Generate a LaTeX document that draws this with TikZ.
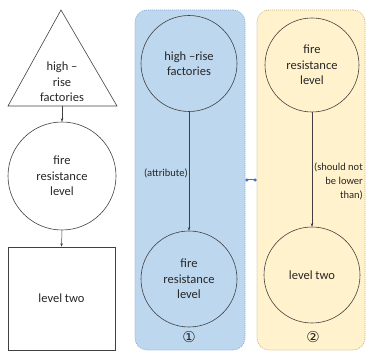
\documentclass[tikz,border=0pt]{standalone}
\usepackage{fontspec}
\setmainfont{Carlito}
\newfontfamily\symfont{DejaVu Sans}
\usetikzlibrary{shapes.geometric,arrows.meta}
\definecolor{lineg}{HTML}{404040}
\definecolor{txtg}{HTML}{262626}
\definecolor{bluefill}{HTML}{BDD7EE}
\definecolor{blueedge}{HTML}{8FAADC}
\definecolor{yelfill}{HTML}{FFF2CC}
\definecolor{yeledge}{HTML}{C9B67A}
\definecolor{conblue}{HTML}{4472C4}
\tikzset{
  shp/.style={draw=lineg, line width=0.6pt, text=txtg, align=center, font=\fontsize{12.5}{15.5}\selectfont, inner sep=0pt},
  arr/.style={draw=lineg, line width=0.5pt, -{Stealth[length=3.5pt,width=2.5pt]}},
  lbl/.style={text=txtg, font=\fontsize{10.5}{14}\selectfont, inner sep=1pt},
  panel/.style={rounded corners=12pt, line width=0.7pt, dash pattern=on 1pt off 1pt, minimum height=340pt, inner sep=0pt},
  numlbl/.style={text=txtg, font=\symfont\fontsize{15}{15}\selectfont, inner sep=0pt}
}
\begin{document}
\begin{tikzpicture}[x=1pt,y=-1pt]
\useasboundingbox (0,0) rectangle (366,352);
% panels
\node[panel, fill=bluefill, draw=blueedge, minimum width=110pt] (p1) at (190,180) {};
\node[panel, fill=yelfill, draw=yeledge, minimum width=108pt] (p2) at (311,180) {};
\draw[conblue, line width=1pt, {Circle[length=3pt]}-{Circle[length=3pt]}] (p1.east) -- (p2.west);
% left column
\draw[lineg, line width=0.6pt] (61,10) -- (117,106) -- (8,106) -- cycle;
\coordinate (tribase) at (62,106);
\node[text=txtg, align=center, font=\fontsize{12.5}{15.5}\selectfont] (tritext) at (62,82) {high –\\rise\\factories};
\node[shp, circle, minimum size=108pt] (c1) at (62,176) {fire\\resistance\\level};
\node[shp, rectangle, minimum width=107pt, minimum height=103pt] (sq) at (61.5,298.5) {level two};
\draw[arr] (tribase) -- (c1.north);
\draw[arr] (c1.south) -- (sq.north);
% blue panel
\node[shp, circle, minimum size=96pt] (b1) at (189,63.5) {high –rise\\factories};
\node[shp, circle, minimum size=96pt] (b2) at (189,279) {fire\\resistance\\level};
\draw[arr] (b1.south) -- node[lbl, anchor=east, pos=0.52] {(attribute)} (b2.north);
\node[numlbl] (n1) at (189,337) {①};
% yellow panel
\node[shp, circle, minimum size=94pt] (y1) at (312,65) {fire\\resistance\\level};
\node[shp, circle, minimum size=96pt] (y2) at (312,275) {level two};
\draw[arr] (y1.south) -- (y2.north);
\node[lbl, align=right, anchor=east] (ylbl) at (364,181) {(should not\\be lower\\than)};
\node[numlbl] (n2) at (313,337) {②};
\end{tikzpicture}
\end{document}
